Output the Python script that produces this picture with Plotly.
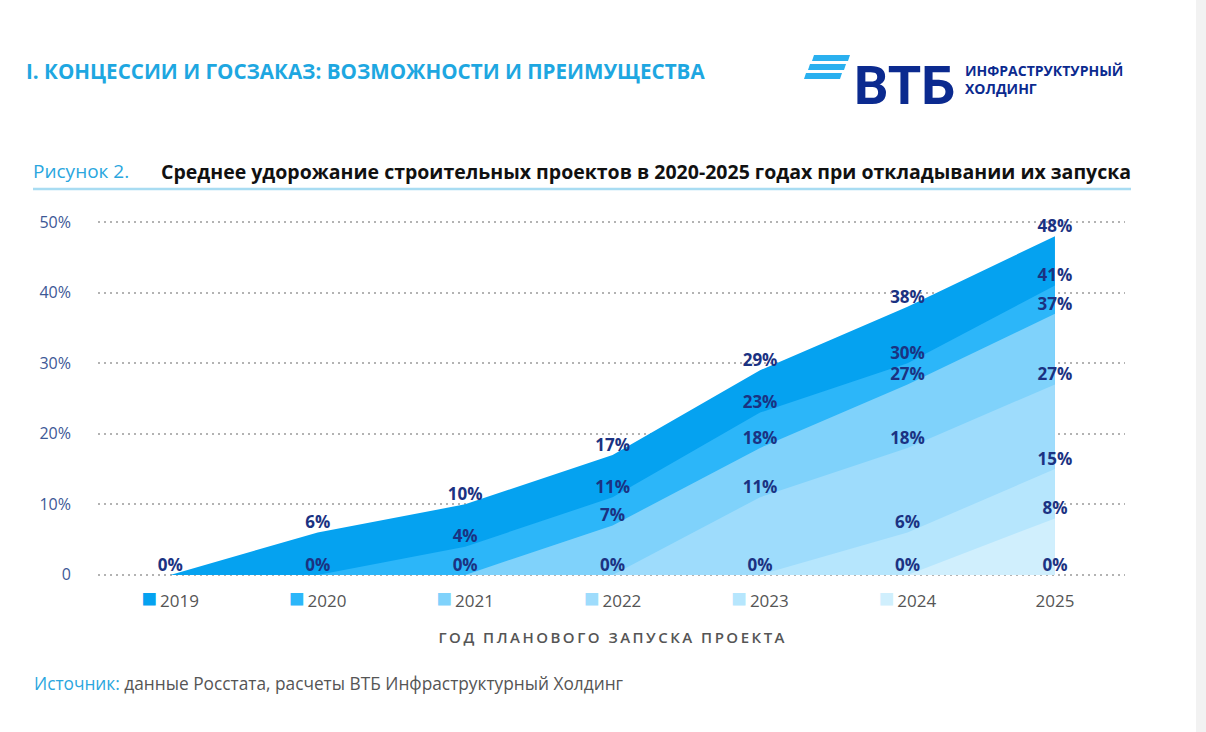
import plotly.graph_objects as go

# ---------------- data ----------------
years = [2019, 2020, 2021, 2022, 2023, 2024, 2025]
series_names = ["2019", "2020", "2021", "2022", "2023", "2024", "2025"]
v2019 = [0, 6, 10, 17, 29, 38, 48]
v2020 = [0, 4, 11, 23, 30, 41]
v2021 = [0, 7, 18, 27, 37]
v2022 = [0, 11, 18, 27]
v2023 = [0, 6, 15]
v2024 = [0, 8]
v2025 = [0]
series_values = [v2019, v2020, v2021, v2022, v2023, v2024, v2025]
y_ticks = [0, 10, 20, 30, 40, 50]
y_ticklabels = ["0", "10%", "20%", "30%", "40%", "50%"]

# ---------------- styles ----------------
colors = ["#05a2f0", "#2cb6f9", "#7fd2fb", "#9edcfc", "#b6e6fd", "#d0effd", None]
navy = "#1b3282"
W, H = 1206, 732
L, R, T, B = 98, 1125, 220, 577  # plot area in pixels


def px(x):
    return (x - L) / (R - L)


def py(y):
    return (B - y) / (B - T)


fig = go.Figure()

# areas (older start year drawn first, underneath)
for i, (name, vals) in enumerate(zip(series_names, series_values)):
    xs = years[i:i + len(vals)]
    if colors[i] is None:
        continue
    fig.add_trace(go.Scatter(
        x=xs, y=vals, mode="lines", fill="tozeroy",
        line=dict(width=0, color=colors[i]), fillcolor=colors[i],
        name=name, showlegend=False, hoverinfo="skip"))

# value labels on top of everything
for i, (name, vals) in enumerate(zip(series_names, series_values)):
    xs = years[i:i + len(vals)]
    fig.add_trace(go.Scatter(
        x=xs, y=vals, mode="text", text=[f"{v}%" for v in vals],
        textposition="top center",
        textfont=dict(family="Open Sans", size=17, color=navy, weight="bold"),
        showlegend=False, hoverinfo="skip", cliponaxis=False))

# tick labels with colored squares (acting as legend)
tick_text = []
for name, c in zip(series_names, colors):
    if c is None:
        tick_text.append(name)
    else:
        tick_text.append(f'<span style="color:{c};font-size:26px">■</span>\u2009{name}')

axis_title = "ГОД ПЛАНОВОГО ЗАПУСКА ПРОЕКТА"
spaced_title = "\u2009".join(list(axis_title))

fig.update_layout(
    width=W, height=H,
    margin=dict(l=L, r=W - R, t=T, b=H - B, pad=0),
    paper_bgcolor="white", plot_bgcolor="white",
    showlegend=False,
    font=dict(family="Open Sans", color="#555555"),
    xaxis=dict(
        range=[2018.51, 2025.475], tickmode="array", tickvals=years,
        ticktext=tick_text, showgrid=False, zeroline=False, showline=False,
        tickfont=dict(size=17, color="#555555"), ticks="",
        ticklabelstandoff=12,
        title=dict(text=spaced_title, font=dict(size=15, color="#555555", weight=600),
                   standoff=18),
    ),
    yaxis=dict(
        range=[-0.3, 50.3], tickmode="array", tickvals=y_ticks,
        ticktext=y_ticklabels, showgrid=True, gridcolor="#b3b3b3",
        griddash="2px,4px", gridwidth=2, zeroline=False, showline=False,
        tickfont=dict(size=16, color="#3d5896"), ticks="",
        ticklabelstandoff=26,
    ),
)

annotations = [
    dict(text="I. КОНЦЕССИИ И ГОСЗАКАЗ: ВОЗМОЖНОСТИ И ПРЕИМУЩЕСТВА",
         x=px(24), y=py(71), xanchor="left", yanchor="middle",
         font=dict(size=20.6, color="#1ea7e1", weight="bold")),
    dict(text="ВТБ", x=px(852), y=py(85), xanchor="left", yanchor="middle",
         font=dict(family="Roboto", size=54, color="#0b2a8f", weight="bold")),
    dict(text="ИНФРАСТРУКТУРНЫЙ<br>ХОЛДИНГ", x=px(963), y=py(79), xanchor="left",
         yanchor="middle", align="left",
         font=dict(size=14, color="#0b2a8f", weight="bold")),
    dict(text="Рисунок 2.", x=px(31), y=py(171), xanchor="left", yanchor="middle",
         font=dict(size=19, color="#2aa6de")),
    dict(text="Среднее удорожание строительных проектов в 2020-2025 годах при откладывании их запуска",
         x=px(159), y=py(171), xanchor="left", yanchor="middle",
         font=dict(size=19.5, color="#111111", weight="bold")),
    dict(text='<span style="color:#2aa6de">Источник:</span> данные Росстата, расчеты ВТБ Инфраструктурный Холдинг',
         x=px(32), y=py(683), xanchor="left", yanchor="middle",
         font=dict(size=17.3, color="#555555")),
]
for a in annotations:
    a.update(xref="paper", yref="paper", showarrow=False)
fig.update_layout(annotations=annotations)

shapes = [
    # underline of the figure title
    dict(type="line", x0=px(33), x1=px(1131), y0=py(189), y1=py(189),
         line=dict(color="#a8dcf2", width=2.5)),
    # right grey strip
    dict(type="rect", x0=px(1196), x1=px(1206), y0=py(0), y1=py(732),
         fillcolor="#f2f2f2", line=dict(width=0), layer="below"),
]
# logo stripes
for k in range(3):
    x0 = 812 - 4 * k
    y0 = 55 + 9 * k
    path = (f"M {px(x0 + 2)},{py(y0)} L {px(x0 + 38)},{py(y0)} "
            f"L {px(x0 + 36)},{py(y0 + 6)} L {px(x0)},{py(y0 + 6)} Z")
    shapes.append(dict(type="path", path=path, fillcolor="#2ab0ef",
                       line=dict(width=0)))
for s in shapes:
    s.update(xref="paper", yref="paper")
fig.update_layout(shapes=shapes)

fig.write_html("out.html", config={"displayModeBar": False})
with open("out.html", "r", encoding="utf-8") as f:
    html = f.read()
html = html.replace("<body>", '<body style="margin:0;padding:0;">', 1)
with open("out.html", "w", encoding="utf-8") as f:
    f.write(html)
